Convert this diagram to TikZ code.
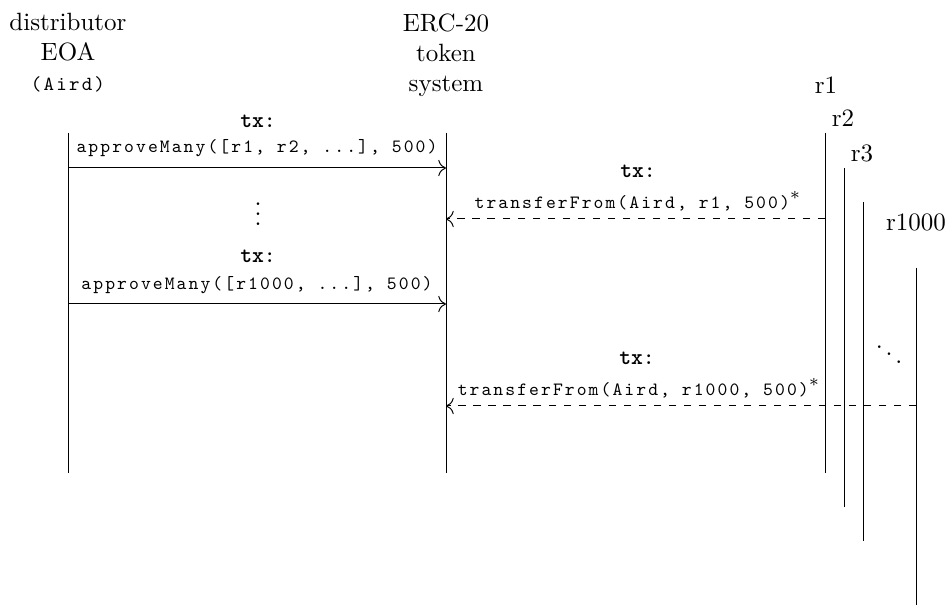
\documentclass[tikz,border=0pt]{standalone}
\usepackage{fontspec}
\usetikzlibrary{arrows.meta}
\newfontfamily\codefont{lmmono10-regular.otf}[LetterSpace=11]
\begin{document}
\begin{tikzpicture}[x=0.4pt,y=-0.4pt,
  tip/.style={-{To[scale=1.25]}},
  lifeline/.style={draw=black, line width=0.4pt},
  msg/.style={draw=black, line width=0.4pt, tip},
  reply/.style={draw=black, line width=0.4pt, tip, dashed},
  head/.style={align=center, inner sep=0pt, anchor=north},
  actor/.style={inner sep=0pt},
  code/.style={inner sep=0pt, font=\codefont\fontsize{7.5}{9}\selectfont},
  txlabel/.style={inner sep=0pt, font=\ttfamily\fontsize{9}{10}\selectfont},
  dotsnode/.style={inner sep=0pt}]
\useasboundingbox (0,0) rectangle (947,605);

% headers
\node[head] (distH) at (68,13) {distributor\\EOA\\{\codefont\fontsize{8}{9}\selectfont (Aird)}};
\node[head] (ercH) at (446,13) {ERC-20\\token\\system};
\node[actor] (r1H) at (826,85) {r1};
\node[actor] (r2H) at (843,118) {r2};
\node[actor] (r3H) at (862,153) {r3};
\node[actor] (r1000H) at (916,222) {r1000};

% lifelines
\coordinate (dT) at (68,133);  \coordinate (dB) at (68,473);
\coordinate (eT) at (446,133); \coordinate (eB) at (446,473);
\coordinate (aT) at (825,133); \coordinate (aB) at (825,473);
\coordinate (bT) at (844,168); \coordinate (bB) at (844,507);
\coordinate (cT) at (863,202); \coordinate (cB) at (863,541);
\coordinate (zT) at (916,268); \coordinate (zB) at (916,605);
\draw[lifeline] (dT) -- (dB);
\draw[lifeline] (eT) -- (eB);
\draw[lifeline] (aT) -- (aB);
\draw[lifeline] (bT) -- (bB);
\draw[lifeline] (cT) -- (cB);
\draw[lifeline] (zT) -- (zB);

% message 1
\coordinate (m1s) at (68,168); \coordinate (m1e) at (446,168);
\draw[msg] (m1s) -- (m1e);
\node[txlabel] (m1tx) at (258,121) {\textbf{tx}:};
\node[code] (m1code) at (257,148) {approveMany([r1, r2, ...], 500)};

% vertical dots
\node[dotsnode] (vd) at (258,207) {$\vdots$};

% message 2
\coordinate (m2s) at (68,304); \coordinate (m2e) at (446,304);
\draw[msg] (m2s) -- (m2e);
\node[txlabel] (m2tx) at (258,256) {\textbf{tx}:};
\node[code] (m2code) at (257,285) {approveMany([r1000, ...], 500)};

% reply 1
\coordinate (m3s) at (825,219); \coordinate (m3e) at (446,219);
\draw[reply] (m3s) -- (m3e);
\node[txlabel] (m3tx) at (638,171) {\textbf{tx}:};
\node[code] (m3code) at (638,201) {transferFrom(Aird, r1, 500){\fontsize{10}{12}\selectfont$^{*}$}};

% diagonal dots
\node[dotsnode] (dd) at (889,347) {$\ddots$};

% reply 2
\coordinate (m4s) at (916,406); \coordinate (m4e) at (446,406);
\draw[reply] (m4s) -- (m4e);
\node[txlabel] (m4tx) at (637,358) {\textbf{tx}:};
\node[code] (m4code) at (639,388) {transferFrom(Aird, r1000, 500){\fontsize{10}{12}\selectfont$^{*}$}};
\end{tikzpicture}
\end{document}
